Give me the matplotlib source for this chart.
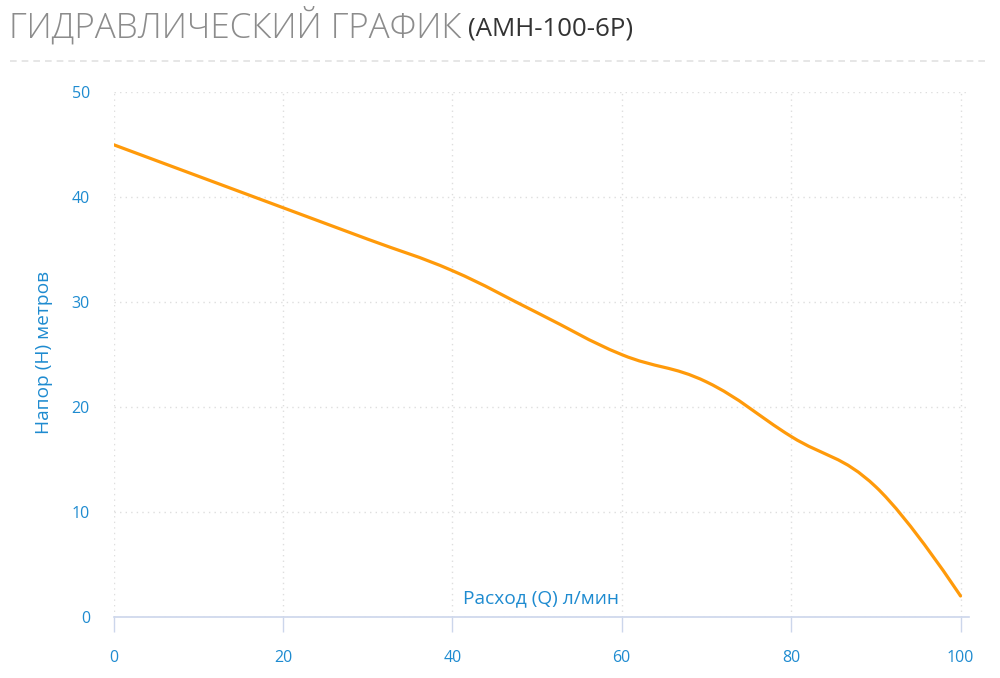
import numpy as np
import matplotlib
matplotlib.use('Agg')
import matplotlib.pyplot as plt
from matplotlib.path import Path
from matplotlib.patches import PathPatch
from matplotlib.lines import Line2D

# Datos
rashod = [0, 10, 20, 30, 40, 50, 60, 70, 80, 90, 100]
napor = [45, 42, 39, 36, 33, 29, 25, 22.4, 17.2, 12.4, 2]
x_ticks = [0, 20, 40, 60, 80, 100]
y_ticks = [0, 10, 20, 30, 40, 50]

titulo = 'ГИДРАВЛИЧЕСКИЙ ГРАФИК'
modelo = '(АМН-100-6Р)'
x_label = 'Расход (Q) л/мин'
y_label = 'Напор (Н) метров'

AZUL = '#1e8bd0'
NARANJA = '#ff9a0a'
EJE = '#ccd6eb'
REJILLA = '#dedede'

plt.rcParams['font.family'] = ['Open Sans', 'DejaVu Sans']


def curva_suave(xs, ys, smoothing=1.5):
    # Curva tipo "spline" con segmentos Bezier cúbicos
    denom = smoothing + 1
    n = len(xs)
    izq, der = [], []
    for i in range(n):
        x, y = xs[i], ys[i]
        if i == 0 or i == n - 1:
            izq.append((x, y))
            der.append((x, y))
            continue
        lx = (smoothing * x + xs[i - 1]) / denom
        ly = (smoothing * y + ys[i - 1]) / denom
        rx = (smoothing * x + xs[i + 1]) / denom
        ry = (smoothing * y + ys[i + 1]) / denom
        corr = ((ry - ly) * (rx - x)) / (rx - lx) + y - ry
        izq.append((lx, ly + corr))
        der.append((rx, ry + corr))
    verts = [(xs[0], ys[0])]
    codes = [Path.MOVETO]
    for i in range(1, n):
        verts += [der[i - 1], izq[i], (xs[i], ys[i])]
        codes += [Path.CURVE4] * 3
    return Path(verts, codes)


fig = plt.figure(figsize=(10, 6.78), dpi=100)
ax = fig.add_axes([0.1135, 0.090, 0.8555, 0.774])

ax.set_xlim(0, 101)
ax.set_ylim(0, 50)
ax.set_xticks(x_ticks)
ax.set_yticks(y_ticks)

ax.grid(True, linestyle=(0, (1, 3)), color=REJILLA, linewidth=1)
ax.set_axisbelow(True)

for lado in ['top', 'right', 'left']:
    ax.spines[lado].set_visible(False)
ax.spines['bottom'].set_color(EJE)
ax.spines['bottom'].set_linewidth(1.2)

ax.tick_params(axis='x', direction='out', length=11, width=1, color=EJE,
               pad=13, labelsize=11.5, labelcolor=AZUL)
ax.tick_params(axis='y', length=0, pad=17, labelsize=11.5, labelcolor=AZUL)

linea = PathPatch(curva_suave(rashod, napor), facecolor='none', edgecolor=NARANJA,
                  linewidth=2.3, transform=ax.transData, capstyle='round', zorder=3)
ax.add_patch(linea)

ax.set_xlabel(x_label, fontsize=13.8, color=AZUL)
ax.xaxis.set_label_coords(0.5, 0.036)
ax.xaxis.label.set_va('center')
ax.set_ylabel(y_label, fontsize=13.8, color=AZUL)
ax.yaxis.set_label_coords(-0.071, 0.505)

# Título y modelo
t = fig.text(0.009, 1 - 26 / 678, titulo, fontsize=25.2, color='#8c8c8c',
             fontweight='light', va='center', ha='left')
fig.canvas.draw()
bb = t.get_window_extent()
fig.text(bb.x1 / 1000 + 0.007, 1 - 29 / 678, modelo, fontsize=18.6, color='#333333',
         va='center', ha='left')

# Línea separadora punteada
fig.add_artist(Line2D([0.010, 0.985], [1 - 60.5 / 678, 1 - 60.5 / 678],
                      color='#e2e2e2', linewidth=1.2, linestyle=(0, (4, 3)),
                      transform=fig.transFigure))

fig.savefig('out.png', dpi=100, facecolor='white')
